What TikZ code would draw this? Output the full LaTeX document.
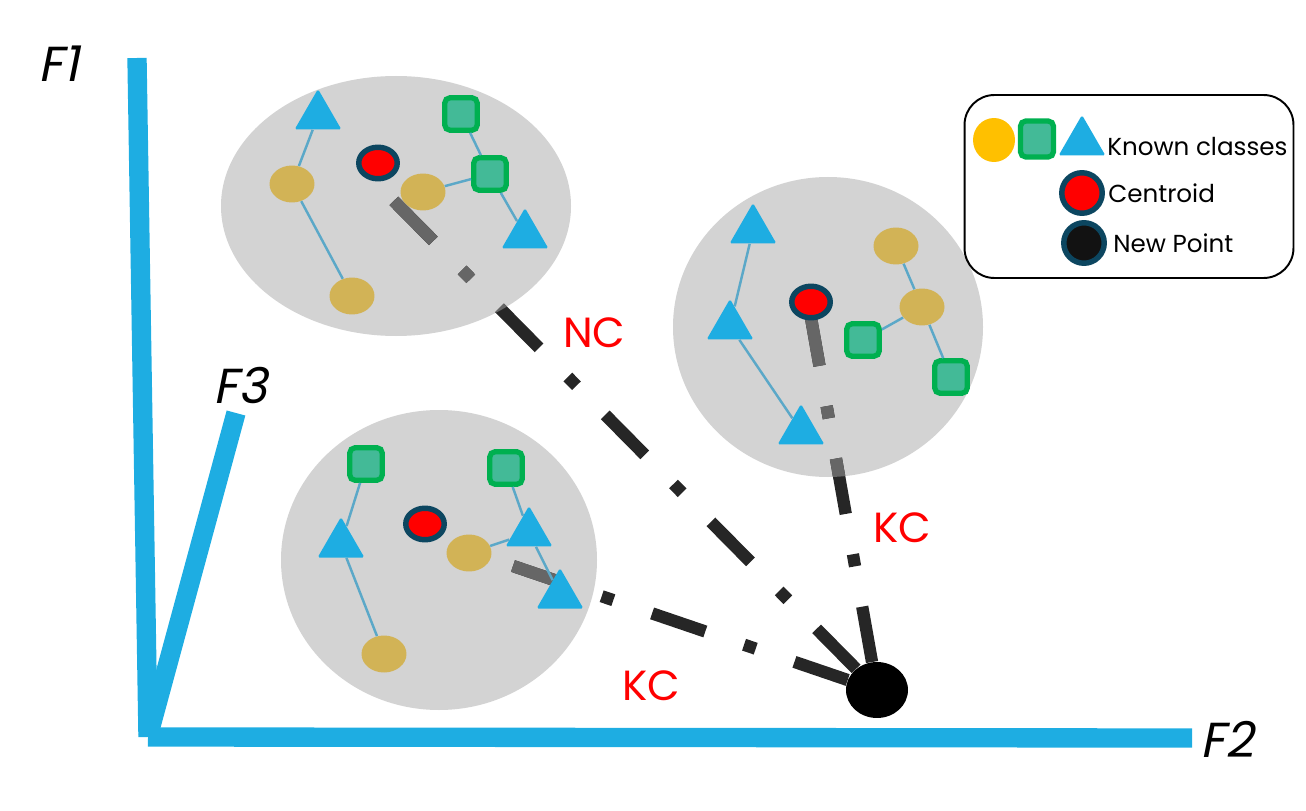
\documentclass[tikz,border=0pt]{standalone}
\usepackage{fontspec}
\newfontfamily\plotfont{Poppins}
\newfontfamily\axisfont[FakeSlant=0.2]{Poppins}
\usetikzlibrary{shapes.geometric,positioning,backgrounds}
\definecolor{AxisBlue}{HTML}{1EADE2}
\definecolor{ClassGold}{HTML}{D2B356}
\definecolor{LegendGold}{HTML}{FFC000}
\definecolor{ClassGreen}{HTML}{00B050}
\definecolor{ClassTeal}{HTML}{43BA97}
\definecolor{RingBlue}{HTML}{0C4660}
\definecolor{ClusterGray}{HTML}{D3D3D3}
\definecolor{LinkBlue}{HTML}{5BA8C8}
\definecolor{DistDark}{HTML}{262626}
\definecolor{DistGray}{HTML}{666666}
\tikzset{
    % Gold class (ellipse)
    goldnode/.style={
        ellipse,
        fill=ClassGold,
        minimum width=0.9cm,
        minimum height=0.74cm,
        inner sep=0pt
    },
    % Green class (square)
    greennode/.style={
        rectangle,
        draw=ClassGreen,
        fill=ClassTeal,
        line width=3pt,
        rounded corners=3pt,
        minimum size=0.65cm,
        inner sep=0pt
    },
    % Blue class (triangle)
    bluenode/.style={
        regular polygon,
        regular polygon sides=3,
        fill=AxisBlue,
        rounded corners=1pt,
        minimum size=1.08cm,
        inner sep=0pt
    },
    % Centroid
    centroidnode/.style={
        ellipse,
        draw=RingBlue,
        fill=red,
        line width=3.1pt,
        minimum width=0.77cm,
        minimum height=0.63cm,
        inner sep=0pt
    },
    % New point
    newnode/.style={
        ellipse,
        fill=black,
        minimum width=1.24cm,
        minimum height=1.12cm,
        inner sep=0pt
    },
    % Links inside a cluster
    link/.style={
        draw=LinkBlue,
        line width=1.4pt
    },
    % Distance lines
    distline/.style={
        line width=7pt,
        dash pattern=on 32pt off 23.3pt on 7pt off 23.3pt
    },
    % Axis line
    axisline/.style={
        draw=AxisBlue,
        line width=11pt
    },
    % Cluster background
    clusterbg/.style={
        fill=ClusterGray
    },
    % Legend box
    legendbox/.style={
        draw=black,
        fill=white,
        line width=1.1pt,
        rounded corners=17pt,
        minimum width=6.58cm,
        minimum height=3.66cm
    },
    % Texts
    legtext/.style={
        anchor=base west,
        inner sep=0pt,
        font=\plotfont\fontsize{14}{16}\selectfont
    },
    distlabel/.style={
        anchor=base west,
        inner sep=0pt,
        text=red,
        font=\plotfont\fontsize{24}{28}\selectfont
    },
    axislabel/.style={
        anchor=base west,
        inner sep=0pt,
        font=\axisfont\fontsize{28}{32}\selectfont
    }
}
\begin{document}
\begin{tikzpicture}[x=0.02cm, y=-0.02cm]
        \useasboundingbox (0,0) rectangle (1306,811);

        % Axes
        \coordinate (o) at (148,737);
        \coordinate (f1) at (137,58);
        \coordinate (f2) at (1192,738);
        \coordinate (f3) at (236,413);
        \draw[axisline] (o) -- (f1);
        \draw[axisline] (o) -- (f2);
        \draw[axisline] (o) -- (f3);
        \node[axislabel] at (38,82) {F1};
        \node[axislabel] at (1200,757) {F2};
        \node[axislabel] at (213,403) {F3};

        % Cluster 1
        \node[bluenode] (t11) at (318,116) {};
        \node[bluenode] (t12) at (525,235) {};
        \node[goldnode] (g11) at (292,184) {};
        \node[goldnode] (g12) at (352,296) {};
        \node[goldnode] (g13) at (423,192) {};
        \node[greennode] (s11) at (461,114) {};
        \node[greennode] (s12) at (490,174) {};
        \node[centroidnode] (c1) at (378,163) {};
        \draw[link] (t11) -- (g11);
        \draw[link] (g11) -- (g12);
        \draw[link] (g13) -- (s12);
        \draw[link] (s11) -- (s12);
        \draw[link] (s12) -- (t12);

        % Cluster 2
        \node[bluenode] (t21) at (753,230) {};
        \node[bluenode] (t22) at (730,326) {};
        \node[bluenode] (t23) at (801,431) {};
        \node[goldnode] (g21) at (896,246) {};
        \node[goldnode] (g22) at (922,307) {};
        \node[greennode] (s21) at (863,340) {};
        \node[greennode] (s22) at (951,377) {};
        \node[centroidnode] (c2) at (811,302) {};
        \draw[link] (t21) -- (t22);
        \draw[link] (t22) -- (t23);
        \draw[link] (g21) -- (g22);
        \draw[link] (g22) -- (s21);
        \draw[link] (g22) -- (s22);

        % Cluster 3
        \node[greennode] (s31) at (366,464) {};
        \node[greennode] (s32) at (506,468) {};
        \node[bluenode] (t31) at (341,544) {};
        \node[bluenode] (t32) at (529,533) {};
        \node[bluenode] (t33) at (560,595) {};
        \node[goldnode] (g31) at (469,553) {};
        \node[goldnode] (g32) at (384,654) {};
        \node[centroidnode] (c3) at (425,524) {};
        \draw[link] (s31) -- (t31);
        \draw[link] (t31) -- (g32);
        \draw[link] (g31) -- (t32);
        \draw[link] (s32) -- (t32);
        \draw[link] (t32) -- (t33);

        % New point
        \node[newnode] (np) at (877,690) {};
        \coordinate (k1s) at (393,200);
        \coordinate (k2s) at (811,318);
        \coordinate (k3s) at (513,566);

        % Clusters and distances (behind the points)
        \begin{scope}[on background layer]
            \fill[clusterbg] (396,206) ellipse [x radius=175, y radius=130];
            \fill[clusterbg] (828,327) ellipse [x radius=155, y radius=150];
            \fill[clusterbg] (439,560) ellipse [x radius=158, y radius=150];
            \draw[distline, draw=DistDark] (np) -- (k1s);
            \draw[distline, draw=DistDark] (np) -- (k2s);
            \draw[distline, draw=DistDark] (np) -- (k3s);
            \begin{scope}
                \clip (396,206) ellipse [x radius=175, y radius=130];
                \draw[distline, draw=DistGray] (np) -- (k1s);
            \end{scope}
            \begin{scope}
                \clip (828,327) ellipse [x radius=155, y radius=150];
                \draw[distline, draw=DistGray] (np) -- (k2s);
            \end{scope}
            \begin{scope}
                \clip (439,560) ellipse [x radius=158, y radius=150];
                \draw[distline, draw=DistGray] (np) -- (k3s);
            \end{scope}
        \end{scope}

        % Distance labels
        \node[distlabel] (nc) at (563,347) {NC};
        \node[distlabel] (kc1) at (873,542) {KC};
        \node[distlabel] (kc2) at (622,700) {KC};

        % Legend
        \node[legendbox] (leg) at (1129,186.5) {};
        \node[goldnode, fill=LegendGold, minimum width=0.84cm, minimum height=0.88cm] (lg1) at (994,140) {};
        \node[greennode, minimum width=0.66cm, minimum height=0.72cm] (lg2) at (1037,139) {};
        \node[bluenode] (lg3) at (1082,142) {};
        \node[centroidnode, minimum width=0.81cm, minimum height=0.81cm] (lg4) at (1082,193) {};
        \node[centroidnode, fill=black!93, minimum width=0.81cm, minimum height=0.81cm] (lg5) at (1084,243) {};
        \node[legtext] (lt1) at (1107,155) {Known classes};
        \node[legtext] (lt2) at (1108,202) {Centroid};
        \node[legtext] (lt3) at (1113,253) {New Point};
    \end{tikzpicture}
\end{document}
